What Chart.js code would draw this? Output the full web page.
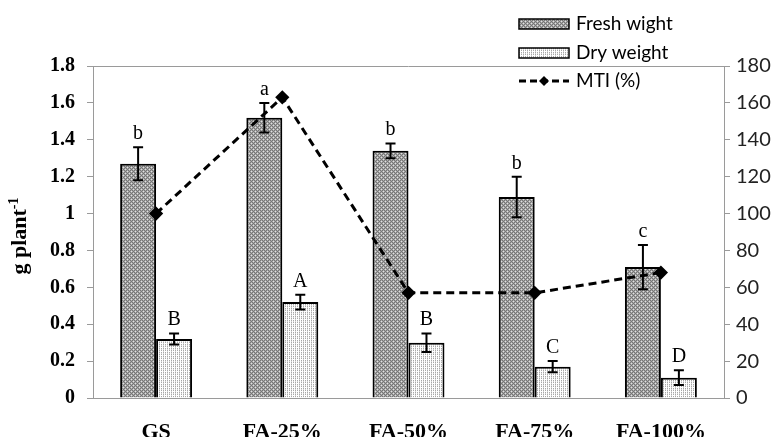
<!DOCTYPE html>
<html>
<head>
<meta charset="utf-8">
<script src="https://cdn.jsdelivr.net/npm/chart.js@4.4.0/dist/chart.umd.min.js"></script>
<style>
  body { margin: 0; background: #fff; }
  #chart { display: block; }
</style>
</head>
<body>
<canvas id="chart" width="782" height="437"></canvas>
<script>
// data
const categories = ['GS', 'FA-25%', 'FA-50%', 'FA-75%', 'FA-100%'];
const freshWeight = [1.27, 1.52, 1.34, 1.09, 0.71];
const freshErr = [0.09, 0.08, 0.04, 0.11, 0.12];
const dryWeight = [0.32, 0.52, 0.30, 0.17, 0.11];
const dryErr = [0.03, 0.04, 0.05, 0.03, 0.04];
const mti = [100, 163, 57, 57, 68];
const freshLetters = ['b', 'a', 'b', 'b', 'c'];
const dryLetters = ['B', 'A', 'B', 'C', 'D'];
const leftTicks = [0, 0.2, 0.4, 0.6, 0.8, 1, 1.2, 1.4, 1.6, 1.8];
const rightTicks = [0, 20, 40, 60, 80, 100, 120, 140, 160, 180];

// small pixel patterns for the bar fills
function makePattern(rows) {
  const c = document.createElement('canvas');
  c.width = rows[0].length;
  c.height = rows.length;
  const g = c.getContext('2d');
  rows.forEach((row, y) => {
    row.forEach((col, x) => {
      g.fillStyle = col;
      g.fillRect(x, y, 1, 1);
    });
  });
  return c.getContext('2d').createPattern(c, 'repeat');
}

const D = '#767676', L = '#a8a8a8', W = '#e0e0e0', G = '#a8a8a8', M = '#d8d8d8';
const freshFill = makePattern([
  [D, L, D, L],
  [L, W, L, D],
  [D, L, D, L],
  [L, D, L, W]
]);
const dryFill = makePattern([
  ['#fff', G, '#fff', G],
  ['#fff', M, '#fff', M],
  ['#fff', G, '#fff', G],
  ['#fff', '#fff', '#fff', M]
]);

const serif = '"Liberation Serif", "Times New Roman", serif';
const sans = 'Lato, "Open Sans", sans-serif';

// error bars + significance letters, drawn right after each bar dataset
const barExtras = {
  id: 'barExtras',
  afterDatasetDraw(chart, args) {
    const ds = chart.data.datasets[args.index];
    if (!ds.errors) return;
    const ctx = chart.ctx;
    const y = chart.scales.y;
    ctx.save();
    ctx.strokeStyle = '#000';
    ctx.lineWidth = 2;
    ctx.fillStyle = '#000';
    ctx.font = '20px ' + serif;
    ctx.textAlign = 'center';
    ctx.textBaseline = 'alphabetic';
    args.meta.data.forEach((bar, i) => {
      const v = ds.data[i];
      const top = y.getPixelForValue(v + ds.errors[i]);
      const bot = y.getPixelForValue(v - ds.errors[i]);
      const x = bar.x;
      ctx.beginPath();
      ctx.moveTo(x, top); ctx.lineTo(x, bot);
      ctx.moveTo(x - 5, top); ctx.lineTo(x + 5, top);
      ctx.moveTo(x - 5, bot); ctx.lineTo(x + 5, bot);
      ctx.stroke();
      ctx.fillText(ds.letters[i], x, top - 8);
    });
    ctx.restore();
  }
};

// top frame line, y axis title and legend
const decorations = {
  id: 'decorations',
  beforeDatasetsDraw(chart) {
    const { ctx, chartArea } = chart;
    ctx.save();
    ctx.strokeStyle = '#9a9a9a';
    ctx.lineWidth = 1;
    ctx.beginPath();
    ctx.moveTo(chartArea.left, chartArea.top + 0.5);
    ctx.lineTo(chartArea.right, chartArea.top + 0.5);
    ctx.stroke();
    ctx.restore();
  },
  afterDraw(chart) {
    const ctx = chart.ctx;
    ctx.save();
    // y axis title "g plant-1"
    ctx.translate(26, 236);
    ctx.rotate(-Math.PI / 2);
    ctx.fillStyle = '#000';
    ctx.textBaseline = 'alphabetic';
    ctx.font = 'bold 22px ' + serif;
    const main = 'g plant';
    const w1 = ctx.measureText(main).width;
    ctx.font = 'bold 14px ' + serif;
    const w2 = ctx.measureText('-1').width;
    const x0 = -(w1 + w2) / 2;
    ctx.font = 'bold 22px ' + serif;
    ctx.fillText(main, x0, 0);
    ctx.font = 'bold 14px ' + serif;
    ctx.fillText('-1', x0 + w1, -8);
    ctx.restore();

    // legend
    ctx.save();
    ctx.font = '19px ' + sans;
    ctx.textBaseline = 'middle';
    ctx.fillStyle = '#000';
    const sx = 519, sw = 50, tx = 576;
    const entries = [
      { y: 24, fill: freshFill, text: chart.data.datasets[1].label },
      { y: 53, fill: dryFill, text: chart.data.datasets[2].label }
    ];
    entries.forEach(e => {
      ctx.fillStyle = e.fill;
      ctx.fillRect(sx, e.y - 5, sw, 10);
      ctx.strokeStyle = '#000';
      ctx.lineWidth = 1.5;
      ctx.strokeRect(sx, e.y - 5, sw, 10);
      ctx.fillStyle = '#000';
      ctx.fillText(e.text, tx, e.y);
    });
    const ly = 81;
    ctx.strokeStyle = '#000';
    ctx.lineWidth = 3;
    ctx.setLineDash([7, 4]);
    ctx.beginPath();
    ctx.moveTo(sx, ly); ctx.lineTo(sx + sw, ly);
    ctx.stroke();
    ctx.setLineDash([]);
    ctx.beginPath();
    ctx.moveTo(sx + 25, ly - 5); ctx.lineTo(sx + 30, ly);
    ctx.lineTo(sx + 25, ly + 5); ctx.lineTo(sx + 20, ly);
    ctx.closePath();
    ctx.fill();
    ctx.fillText(chart.data.datasets[0].label, tx, ly);
    ctx.restore();
  }
};

new Chart(document.getElementById('chart'), {
  data: {
    labels: categories,
    datasets: [
      {
        type: 'line',
        label: 'MTI (%)',
        data: mti,
        yAxisID: 'y1',
        order: 0,
        borderColor: '#000',
        borderWidth: 3,
        borderDash: [8, 5],
        pointStyle: 'rectRot',
        pointRadius: 5,
        pointBackgroundColor: '#000',
        pointBorderColor: '#000',
        tension: 0
      },
      {
        type: 'bar',
        label: 'Fresh wight',
        data: freshWeight,
        errors: freshErr,
        letters: freshLetters,
        yAxisID: 'y',
        order: 1,
        backgroundColor: freshFill,
        borderColor: '#000',
        borderWidth: 2,
        barPercentage: 1,
        categoryPercentage: 0.57
      },
      {
        type: 'bar',
        label: 'Dry weight',
        data: dryWeight,
        errors: dryErr,
        letters: dryLetters,
        yAxisID: 'y',
        order: 2,
        backgroundColor: dryFill,
        borderColor: '#000',
        borderWidth: 2,
        barPercentage: 1,
        categoryPercentage: 0.57
      }
    ]
  },
  options: {
    responsive: false,
    animation: false,
    devicePixelRatio: 1,
    layout: { padding: { top: 66, left: 0, right: 0, bottom: 0 } },
    plugins: {
      legend: { display: false },
      tooltip: { enabled: false }
    },
    scales: {
      x: {
        grid: { display: false, drawTicks: false },
        border: { display: true, color: '#9a9a9a', width: 1 },
        ticks: {
          color: '#000',
          padding: 21,
          font: { family: serif, size: 22, weight: 'bold' }
        },
        afterFit(scale) { scale.height = 39; }
      },
      y: {
        position: 'left',
        min: 0,
        max: 1.8,
        afterBuildTicks(scale) { scale.ticks = leftTicks.map(v => ({ value: v })); },
        grid: { drawOnChartArea: false, drawTicks: true, tickLength: 6, color: '#9a9a9a' },
        border: { display: true, color: '#9a9a9a', width: 1 },
        ticks: {
          color: '#000',
          padding: 12,
          font: { family: serif, size: 20, weight: 'bold' },
          callback: v => String(v)
        },
        afterFit(scale) { scale.width = 93; }
      },
      y1: {
        position: 'right',
        min: 0,
        max: 180,
        afterBuildTicks(scale) { scale.ticks = rightTicks.map(v => ({ value: v })); },
        grid: { drawOnChartArea: false, drawTicks: true, tickLength: 6, color: '#9a9a9a' },
        border: { display: true, color: '#9a9a9a', width: 1 },
        ticks: {
          color: '#222',
          padding: 6,
          font: { family: sans, size: 20 }
        },
        afterFit(scale) { scale.width = 58; }
      }
    }
  },
  plugins: [barExtras, decorations]
});
</script>
</body>
</html>
